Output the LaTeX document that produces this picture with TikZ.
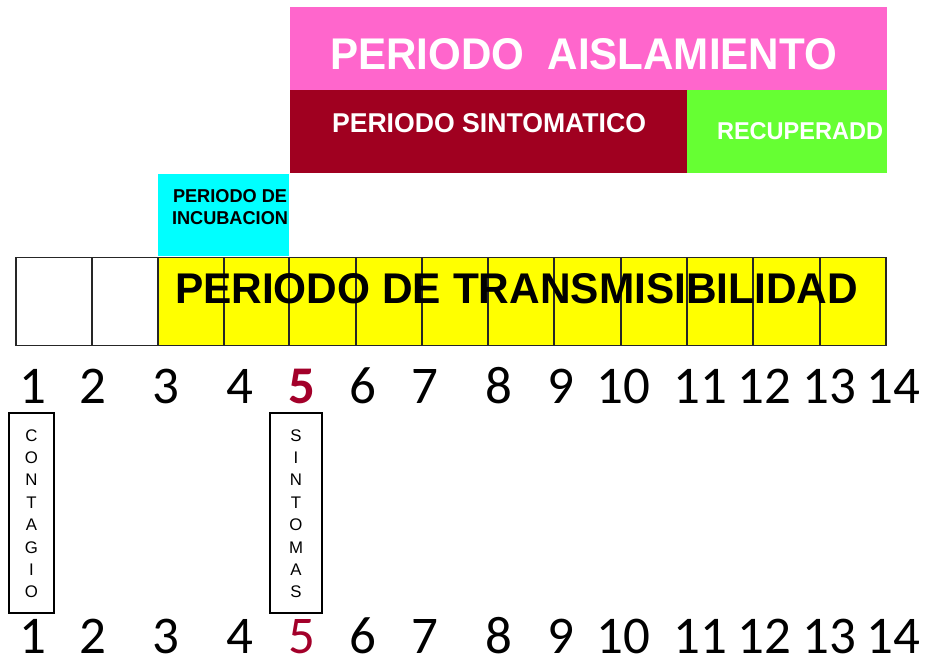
\documentclass[tikz,border=0pt]{standalone}
\usepackage{fontspec}
\usepackage{graphicx}
\setmainfont{Liberation Sans}
\newfontfamily\numfont{Carlito}
\definecolor{pinkc}{HTML}{FF66CC}
\definecolor{darkredc}{HTML}{A00020}
\definecolor{greenc}{HTML}{66FF33}
\definecolor{cyanc}{HTML}{00FFFF}
\definecolor{yellowc}{HTML}{FFFF00}
\definecolor{numred}{HTML}{A3002A}
\newcommand\fitto[3]{\resizebox{#1pt}{#2pt}{#3}}
\begin{document}
\begin{tikzpicture}[x=1pt,y=-1pt,
  band/.style={draw=none,inner sep=0,outer sep=0,anchor=north west},
  cellbox/.style={draw=black!85,line width=1.4pt,inner sep=0,outer sep=0,anchor=north west,minimum height=88pt},
  lbl/.style={inner sep=0,outer sep=0,anchor=base west},
  numlbl/.style={inner sep=0,outer sep=0,anchor=base,text depth=0pt,font=\numfont\fontsize{53}{53}\selectfont},
  vbox/.style={draw=black,line width=1.3pt,inner sep=0,outer sep=0,anchor=north west,minimum width=45pt,minimum height=200pt},
  vletter/.style={inner sep=0,outer sep=0,anchor=base,font=\fontsize{16.8}{17}\selectfont}]
\useasboundingbox (0,0) rectangle (933,664);
% top bands
\node[band,fill=pinkc,minimum width=597pt,minimum height=83pt] (aisl) at (290,7.3) {};
\node[band,fill=darkredc,minimum width=397pt,minimum height=83pt] (sint) at (290,90) {};
\node[band,fill=greenc,minimum width=200pt,minimum height=83pt] (recu) at (687,90) {};
\node[band,fill=cyanc,minimum width=131pt,minimum height=82pt] (incu) at (158,174) {};
\node[lbl,text=white] (taisl) at (330,69) {\fitto{507}{31}{\bfseries PERIODO\ \ AISLAMIENTO}};
\node[lbl,text=white] (tsint) at (332,132) {\fitto{314}{19}{\bfseries PERIODO SINTOMATICO}};
\node[lbl,text=white] (trecu) at (717,139) {\fitto{166}{17}{\bfseries RECUPERADD}};
\node[lbl] (tincu1) at (173,202) {\fitto{114}{13}{\bfseries PERIODO DE}};
\node[lbl] (tincu2) at (172,224) {\fitto{116}{13}{\bfseries INCUBACION}};
% grid
\node[cellbox,fill=white,minimum width=76pt] (c1) at (16,257.5) {};
\node[cellbox,fill=white,minimum width=66pt] (c2) at (92,257.5) {};
\foreach \i/\x/\w in {3/158/66,4/224/65,5/289/67,6/356/66,7/422/66,8/488/66,9/554/67,10/621/66,11/687/66,12/753/67,13/820/66}{
  \node[cellbox,fill=yellowc,minimum width=\w pt] (c\i) at (\x,257.5) {};
}
\node[lbl] (ttrans) at (175,303) {\fitto{683}{30}{\bfseries PERIODO DE TRANSMISIBILIDAD}};
% numbers
\foreach \n/\x in {1/33,2/93,3/166,4/240,6/363,7/425,8/499,9/561,10/623,11/700,12/764,13/829,14/893}{
  \node[numlbl] (na\n) at (\x,403) {\n};
  \node[numlbl] (nb\n) at (\x,653) {\n};
}
\node[numlbl,text=numred] (na5) at (302,403) {\textbf{5}};
\node[numlbl,text=numred] (nb5) at (302,653) {5};
% vertical boxes
\node[vbox] (cont) at (9,413) {};
\node[vbox,minimum width=52pt] (sinto) at (270,413) {};
\foreach \ch [count=\k from 0] in {C,O,N,T,A,G,I,O}{
  \node[vletter] (cl\k) at (31.5,441+22.4*\k) {\ch};
}
\foreach \ch [count=\k from 0] in {S,I,N,T,O,M,A,S}{
  \node[vletter] (sl\k) at (296,441+22.4*\k) {\ch};
}
\end{tikzpicture}
\end{document}
